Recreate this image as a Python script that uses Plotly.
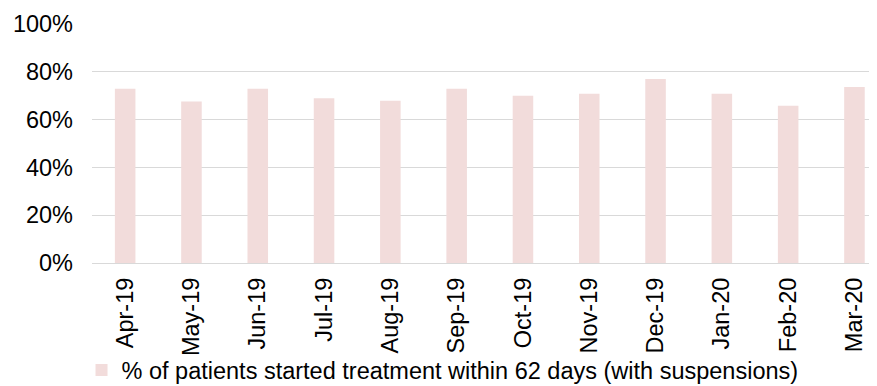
import plotly.graph_objects as go

months = ["Apr-19", "May-19", "Jun-19", "Jul-19", "Aug-19", "Sep-19",
          "Oct-19", "Nov-19", "Dec-19", "Jan-20", "Feb-20", "Mar-20"]
pct_within_62 = [0.729, 0.676, 0.729, 0.689, 0.679, 0.729,
                 0.700, 0.708, 0.770, 0.708, 0.658, 0.736]
series_name = "% of patients started treatment within 62 days (with suspensions)"
y_ticks = [0, 0.2, 0.4, 0.6, 0.8, 1.0]

FONT = "Liberation Sans, Arial, sans-serif"
FS = 23.5

fig = go.Figure()
fig.add_trace(go.Bar(
    x=months, y=pct_within_62, name=series_name,
    marker=dict(color="#F2DCDB", line=dict(width=0)),
    showlegend=True,
))

fig.update_layout(
    width=869, height=378,
    margin=dict(l=84, r=0, t=16, b=123, autoexpand=False),
    paper_bgcolor="white", plot_bgcolor="white",
    font=dict(family=FONT, size=FS, color="#000000"),
    bargap=0.69,
    showlegend=True,
    legend=dict(orientation="h", xref="container", yref="container",
                x=0.0846, xanchor="left", y=0.042, yanchor="middle",
                font=dict(size=FS), bgcolor="rgba(0,0,0,0)",
                itemwidth=30),
    xaxis=dict(type="category", range=[-0.5, 11.34], tickangle=-90,
               automargin=False,
               showgrid=False, showline=False, ticks="",
               ticklabelstandoff=9, tickfont=dict(size=FS)),
    yaxis=dict(range=[0, 1], tickvals=y_ticks, tickformat=".0%",
               automargin=False,
               showgrid=True, gridcolor="#D9D9D9", gridwidth=1,
               zeroline=True, zerolinecolor="#D9D9D9", zerolinewidth=1,
               showline=False, ticks="", ticklabelstandoff=18,
               tickfont=dict(size=FS)),
)

fig.write_html("out.html")
